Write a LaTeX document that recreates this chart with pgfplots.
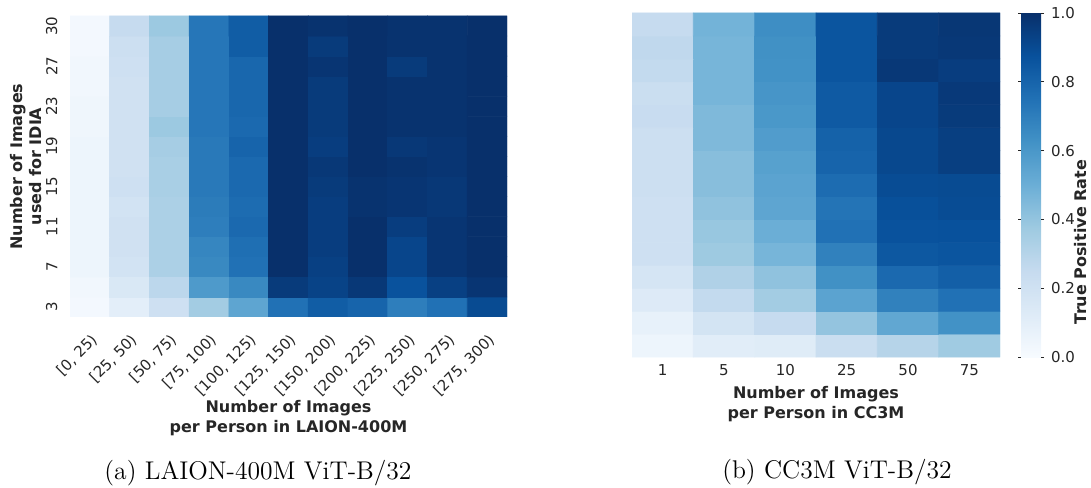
\documentclass[border=0pt]{standalone}
\usepackage{fontspec}
\usepackage{pgfplots}
\pgfplotsset{compat=1.18}
\newfontfamily\dejavu{DejaVu Sans}
\definecolor{tickgray}{RGB}{38,38,38}
\pgfplotsset{
  colormap={sbblues}{rgb255=(247,251,255) rgb255=(222,235,247) rgb255=(198,219,239) rgb255=(158,202,225) rgb255=(107,174,214) rgb255=(66,146,198) rgb255=(33,113,181) rgb255=(8,81,156) rgb255=(8,48,107)},
  hm/.style={scale only axis, anchor=south west, axis line style={draw=none},
    major tick length=0pt, tick style={draw=none},
    point meta min=0, point meta max=1, colormap name=sbblues,
    ticklabel style={font=\dejavu\fontsize{7.5}{9}\selectfont, text=tickgray},
    label style={font=\dejavu\bfseries\fontsize{8}{9.7}\selectfont, text=tickgray, align=center},
    enlargelimits=false}
}
\begin{document}
\begin{tikzpicture}
\useasboundingbox (0,0) rectangle (545.5pt,243.5pt);
\begin{axis}[hm, at={(35pt,85pt)}, width=218.5pt, height=150.5pt,
  xmin=-0.5, xmax=10.5, ymin=-0.5, ymax=14.5,
  xtick={0,1,2,3,4,5,6,7,8,9,10},
  xticklabels={{[0, 25)},{[25, 50)},{[50, 75)},{[75, 100)},{[100, 125)},{[125, 150)},{[150, 200)},{[200, 225)},{[225, 250)},{[250, 275)},{[275, 300)}},
  ytick={0,2,4,6,8,10,12,14}, yticklabels={3,7,11,15,19,23,27,30},
  xticklabel style={yshift=-3pt, rotate=45, anchor=north east},
  yticklabel style={xshift=-2.8pt, rotate=90, anchor=south},
  xlabel={Number of Images\\per Person in LAION-400M},
  xlabel style={at={(axis description cs:0.5,-0.3355)}, anchor=center},
  ylabel={Number of Images\\used for IDIA},
  ylabel style={at={(axis description cs:-0.1007,0.5)}, anchor=center}]
\addplot[matrix plot*, mesh/cols=11, point meta=explicit] coordinates {
(0,0)[0.02] (1,0)[0.10] (2,0)[0.21] (3,0)[0.36] (4,0)[0.54] (5,0)[0.75] (6,0)[0.83] (7,0)[0.80] (8,0)[0.70] (9,0)[0.75] (10,0)[0.90]
(0,1)[0.03] (1,1)[0.15] (2,1)[0.28] (3,1)[0.59] (4,1)[0.66] (5,1)[0.96] (6,1)[0.93] (7,1)[0.97] (8,1)[0.87] (9,1)[0.94] (10,1)[0.98]
(0,2)[0.05] (1,2)[0.19] (2,2)[0.33] (3,2)[0.66] (4,2)[0.75] (5,2)[1] (6,2)[0.94] (7,2)[1] (8,2)[0.92] (9,2)[0.98] (10,2)[1]
(0,3)[0.05] (1,3)[0.20] (2,3)[0.33] (3,3)[0.67] (4,3)[0.76] (5,3)[1] (6,3)[0.95] (7,3)[1] (8,3)[0.92] (9,3)[0.98] (10,3)[1]
(0,4)[0.05] (1,4)[0.20] (2,4)[0.33] (3,4)[0.70] (4,4)[0.78] (5,4)[1] (6,4)[0.95] (7,4)[1] (8,4)[0.95] (9,4)[0.98] (10,4)[1]
(0,5)[0.05] (1,5)[0.19] (2,5)[0.33] (3,5)[0.71] (4,5)[0.77] (5,5)[1] (6,5)[0.95] (7,5)[0.99] (8,5)[0.98] (9,5)[0.97] (10,5)[1]
(0,6)[0.05] (1,6)[0.21] (2,6)[0.34] (3,6)[0.72] (4,6)[0.78] (5,6)[1] (6,6)[0.96] (7,6)[0.99] (8,6)[0.98] (9,6)[0.97] (10,6)[1]
(0,7)[0.05] (1,7)[0.20] (2,7)[0.34] (3,7)[0.72] (4,7)[0.78] (5,7)[1] (6,7)[0.97] (7,7)[1] (8,7)[0.99] (9,7)[0.98] (10,7)[1]
(0,8)[0.05] (1,8)[0.20] (2,8)[0.35] (3,8)[0.72] (4,8)[0.80] (5,8)[1] (6,8)[0.95] (7,8)[1] (8,8)[0.97] (9,8)[0.98] (10,8)[1]
(0,9)[0.04] (1,9)[0.20] (2,9)[0.38] (3,9)[0.73] (4,9)[0.78] (5,9)[1] (6,9)[0.96] (7,9)[1] (8,9)[0.99] (9,9)[0.99] (10,9)[1]
(0,10)[0.04] (1,10)[0.20] (2,10)[0.35] (3,10)[0.73] (4,10)[0.79] (5,10)[1] (6,10)[0.96] (7,10)[1] (8,10)[0.99] (9,10)[0.99] (10,10)[1]
(0,11)[0.03] (1,11)[0.20] (2,11)[0.35] (3,11)[0.73] (4,11)[0.79] (5,11)[1] (6,11)[0.96] (7,11)[1] (8,11)[0.99] (9,11)[0.99] (10,11)[1]
(0,12)[0.03] (1,12)[0.21] (2,12)[0.35] (3,12)[0.73] (4,12)[0.79] (5,12)[1] (6,12)[0.98] (7,12)[1] (8,12)[0.96] (9,12)[0.99] (10,12)[1]
(0,13)[0.02] (1,13)[0.22] (2,13)[0.35] (3,13)[0.73] (4,13)[0.83] (5,13)[1] (6,13)[0.96] (7,13)[1] (8,13)[0.99] (9,13)[0.99] (10,13)[1]
(0,14)[0.02] (1,14)[0.25] (2,14)[0.38] (3,14)[0.73] (4,14)[0.83] (5,14)[1] (6,14)[0.99] (7,14)[1] (8,14)[0.99] (9,14)[0.99] (10,14)[1]
};
\end{axis}
\begin{axis}[hm, at={(316pt,65pt)}, width=184pt, height=172pt,
  xmin=-0.5, xmax=5.5, ymin=-0.5, ymax=14.5,
  xtick={0,1,2,3,4,5}, xticklabels={1,5,10,25,50,75}, ytick=\empty,
  xlabel={Number of Images\\per Person in CC3M},
  xlabel style={at={(axis description cs:0.5,-0.1366)}, anchor=center},
  colorbar,
  colorbar shift/.style={},
  colorbar style={at={(parent axis.north east)}, anchor=north west, xshift=10.5pt,
    scale only axis, width=10pt, height=172pt, axis line style={draw=none},
    ytick={0,0.2,0.4,0.6,0.8,1}, major tick length=1.5pt, tick align=outside,
    ytick style={draw=tickgray, line width=0.4pt},
    yticklabel style={font=\dejavu\fontsize{7.5}{9}\selectfont, text=tickgray,
      /pgf/number format/.cd, fixed, fixed zerofill, precision=1, assume math mode=true}}]
\addplot[matrix plot*, mesh/cols=6, point meta=explicit] coordinates {
(0,0)[0.05] (1,0)[0.11] (2,0)[0.12] (3,0)[0.23] (4,0)[0.30] (5,0)[0.37]
(0,1)[0.08] (1,1)[0.18] (2,1)[0.25] (3,1)[0.40] (4,1)[0.53] (5,1)[0.625]
(0,2)[0.13] (1,2)[0.26] (2,2)[0.36] (3,2)[0.55] (4,2)[0.69] (5,2)[0.75]
(0,3)[0.17] (1,3)[0.32] (2,3)[0.41] (3,3)[0.63] (4,3)[0.78] (5,3)[0.82]
(0,4)[0.21] (1,4)[0.375] (2,4)[0.47] (3,4)[0.69] (4,4)[0.85] (5,4)[0.86]
(0,5)[0.21] (1,5)[0.39] (2,5)[0.50] (3,5)[0.75] (4,5)[0.87] (5,5)[0.875]
(0,6)[0.21] (1,6)[0.41] (2,6)[0.54] (3,6)[0.74] (4,6)[0.88] (5,6)[0.895]
(0,7)[0.22] (1,7)[0.43] (2,7)[0.55] (3,7)[0.77] (4,7)[0.895] (5,7)[0.90]
(0,8)[0.22] (1,8)[0.43] (2,8)[0.56] (3,8)[0.80] (4,8)[0.91] (5,8)[0.945]
(0,9)[0.22] (1,9)[0.45] (2,9)[0.58] (3,9)[0.81] (4,9)[0.91] (5,9)[0.945]
(0,10)[0.24] (1,10)[0.45] (2,10)[0.60] (3,10)[0.84] (4,10)[0.92] (5,10)[0.96]
(0,11)[0.23] (1,11)[0.47] (2,11)[0.61] (3,11)[0.84] (4,11)[0.92] (5,11)[0.965]
(0,12)[0.26] (1,12)[0.47] (2,12)[0.625] (3,12)[0.86] (4,12)[0.97] (5,12)[0.95]
(0,13)[0.27] (1,13)[0.47] (2,13)[0.63] (3,13)[0.86] (4,13)[0.96] (5,13)[0.97]
(0,14)[0.25] (1,14)[0.48] (2,14)[0.64] (3,14)[0.86] (4,14)[0.96] (5,14)[0.975]
};
\end{axis}
\node[rotate=90, font=\dejavu\bfseries\fontsize{8}{9.7}\selectfont, text=tickgray] at (540.5pt,122.5pt) {True Positive Rate};
\node[anchor=base, font=\fontsize{12.8}{15}\selectfont] at (129pt,4pt) {(a) LAION-400M ViT-B/32};
\node[anchor=base, font=\fontsize{12.8}{15}\selectfont] at (418.5pt,4.5pt) {(b) CC3M ViT-B/32};
\end{tikzpicture}
\end{document}
